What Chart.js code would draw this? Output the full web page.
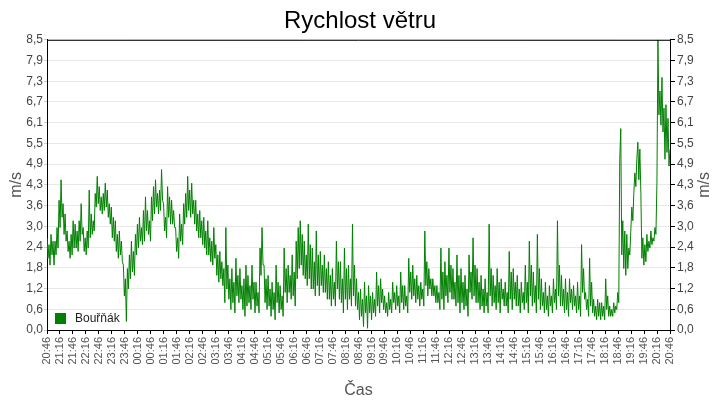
<!DOCTYPE html>
<html>
<head>
<meta charset="utf-8">
<script src="https://cdn.jsdelivr.net/npm/chart.js@4.4.0/dist/chart.umd.min.js"></script>
<style>
  html, body { margin: 0; padding: 0; background: #fff; }
  #wrap { width: 720px; height: 400px; position: relative; }
</style>
</head>
<body>
<div id="wrap"><canvas id="windChart"></canvas></div>
<script>
const chartTitle = 'Rychlost větru';
const seriesName = 'Bouřňák';
const unitLabel = 'm/s';
const timeAxisLabel = 'Čas';

// 30 min steps over the 24 h window
const timeLabels = [
    '20:46', '21:16', '21:46', '22:16', '22:46', '23:16', '23:46',
    '00:16', '00:46', '01:16', '01:46', '02:16', '02:46', '03:16', '03:46',
    '04:16', '04:46', '05:16', '05:46', '06:16', '06:46', '07:16', '07:46',
    '08:16', '08:46', '09:16', '09:46', '10:16', '10:46', '11:16', '11:46',
    '12:16', '12:46', '13:16', '13:46', '14:16', '14:46', '15:16', '15:46',
    '16:16', '16:46', '17:16', '17:46', '18:16', '18:46', '19:16', '19:46',
    '20:16', '20:46'
];
const yTickLabels = ['0,0', '0,6', '1,2', '1,8', '2,4', '3,0', '3,6', '4,3', '4,9', '5,5', '6,1', '6,7', '7,3', '7,9', '8,5'];
const yMax = 8.5;
const totalMinutes = 1440;

// wind speed readings (m/s), evenly spaced over the window
const windSpeed = [
    2.7, 2.1, 2.5, 1.9, 2.8, 2.2, 2.6, 1.9, 2.6, 2.2, 3.0, 2.4, 3.8, 3.0, 4.4, 3.3, 3.7, 2.8, 3.4, 2.6,
    2.9, 2.3, 2.6, 2.1, 2.8, 2.2, 3.2, 2.4, 3.1, 2.4, 2.9, 2.3, 3.2, 2.6, 3.7, 2.8, 3.0, 2.3, 2.7, 2.2,
    2.9, 2.4, 4.1, 2.7, 3.4, 2.8, 3.2, 2.9, 4.0, 3.6, 4.5, 3.7, 4.2, 3.5, 3.9, 3.4, 4.0, 3.5, 4.3, 3.6,
    4.1, 3.3, 3.7, 3.1, 3.6, 2.7, 3.3, 2.6, 3.2, 2.3, 2.8, 2.1, 2.9, 2.2, 2.6, 2.0, 1.9, 1.0, 1.5, 0.25,
    1.8, 1.2, 2.2, 1.5, 2.6, 1.7, 2.3, 1.6, 2.8, 2.2, 3.1, 2.4, 3.3, 2.6, 3.0, 2.5, 3.5, 2.6, 3.9, 2.9,
    3.5, 2.8, 3.2, 2.6, 3.9, 3.2, 4.2, 3.4, 4.4, 3.6, 4.0, 3.4, 4.1, 3.5, 4.7, 3.8, 3.7, 2.9, 3.3, 2.7,
    4.2, 3.3, 3.9, 3.1, 3.8, 3.1, 3.5, 3.0, 3.0, 2.3, 2.7, 2.1, 3.4, 2.6, 3.1, 2.5, 3.7, 3.1, 4.0, 3.3,
    4.5, 3.5, 4.1, 3.3, 4.3, 3.4, 3.8, 3.1, 3.8, 2.9, 3.4, 2.7, 3.5, 2.7, 3.2, 2.5, 3.3, 2.4, 2.9, 2.2,
    3.2, 2.2, 2.7, 2.0, 2.6, 1.9, 3.0, 2.1, 2.5, 1.6, 2.2, 1.4, 2.3, 1.5, 2.0, 1.3, 1.8, 0.8, 3.0, 1.2,
    1.9, 0.9, 1.5, 0.6, 1.8, 0.8, 1.4, 0.5, 2.1, 1.0, 1.6, 0.8, 1.8, 0.9, 1.3, 0.6, 1.5, 0.4, 1.9, 0.7,
    1.6, 0.8, 1.3, 0.6, 1.9, 0.9, 1.4, 0.5, 1.4, 0.7, 1.1, 0.5, 2.4, 1.6, 3.0, 1.9, 1.9, 0.8, 1.5, 0.6,
    1.6, 0.7, 1.2, 0.4, 1.4, 0.6, 1.1, 0.3, 1.9, 0.8, 1.4, 0.5, 1.3, 0.6, 1.0, 0.4, 2.4, 1.1, 1.8, 0.8,
    1.9, 1.1, 1.6, 0.9, 2.2, 1.0, 1.7, 0.7, 2.6, 1.5, 3.0, 1.8, 3.2, 1.9, 2.8, 1.6, 2.6, 1.5, 2.2, 1.3,
    3.1, 1.5, 2.5, 1.2, 2.4, 1.2, 2.0, 1.0, 2.9, 1.3, 2.2, 1.0, 2.3, 1.3, 1.9, 1.1, 2.2, 1.1, 1.8, 0.9,
    2.0, 0.9, 1.6, 0.7, 1.8, 0.9, 1.4, 0.7, 2.6, 1.2, 2.0, 0.9, 2.0, 0.8, 1.5, 0.5, 2.4, 0.9, 1.8, 0.6,
    1.9, 0.9, 1.5, 0.7, 3.1, 1.0, 1.9, 0.7, 1.5, 0.6, 1.1, 0.3, 1.2, 0.4, 0.9, 0.1, 1.4, 0.5, 1.0, 0.05,
    1.3, 0.5, 1.0, 0.3, 1.1, 0.5, 0.9, 0.4, 1.7, 0.7, 1.3, 0.5, 1.5, 0.8, 1.2, 0.6, 1.0, 0.5, 0.8, 0.4,
    1.1, 0.6, 0.9, 0.5, 1.4, 0.8, 1.1, 0.6, 1.3, 0.7, 1.0, 0.5, 1.7, 0.8, 1.3, 0.6, 1.3, 0.7, 1.0, 0.5,
    2.1, 1.1, 1.7, 0.9, 1.9, 1.0, 1.5, 0.8, 1.6, 0.9, 1.3, 0.7, 1.4, 0.9, 1.2, 0.7, 2.9, 1.3, 2.0, 1.0,
    1.8, 1.2, 1.5, 1.0, 1.5, 1.0, 1.3, 0.8, 1.3, 0.8, 1.1, 0.6, 2.4, 0.9, 1.7, 0.6, 2.0, 1.0, 1.6, 0.8,
    2.4, 1.1, 1.9, 0.9, 1.8, 0.9, 1.4, 0.7, 2.2, 0.8, 1.6, 0.5, 1.8, 0.8, 1.4, 0.6, 1.6, 0.7, 1.2, 0.4,
    2.2, 1.1, 1.7, 0.9, 2.7, 1.0, 1.9, 0.8, 1.8, 0.8, 1.4, 0.6, 1.6, 0.7, 1.2, 0.5, 1.5, 0.7, 1.1, 0.5,
    3.1, 1.0, 1.8, 0.7, 1.6, 0.8, 1.3, 0.6, 1.8, 0.8, 1.4, 0.5, 1.5, 0.9, 1.2, 0.7, 1.4, 0.7, 1.1, 0.5,
    2.3, 0.9, 1.7, 0.6, 1.8, 0.9, 1.4, 0.7, 1.6, 0.7, 1.2, 0.5, 1.4, 0.8, 1.1, 0.6, 1.9, 0.8, 1.4, 0.5,
    2.6, 1.0, 1.9, 0.7, 1.7, 0.8, 1.3, 0.5, 2.8, 0.9, 1.8, 0.6, 1.5, 0.7, 1.1, 0.5, 1.4, 0.6, 1.0, 0.4,
    1.3, 0.7, 1.0, 0.5, 1.5, 0.8, 1.2, 0.6, 3.2, 1.0, 1.9, 0.7, 1.6, 0.7, 1.2, 0.5, 1.5, 0.6, 1.1, 0.4,
    1.5, 0.8, 1.2, 0.6, 1.3, 0.7, 1.0, 0.5, 1.4, 0.6, 1.0, 0.4, 2.5, 1.1, 1.8, 0.9, 1.1, 0.6, 0.9, 0.4,
    2.1, 0.7, 1.4, 0.5, 0.9, 0.4, 0.7, 0.3, 0.9, 0.4, 0.8, 0.3, 0.8, 0.4, 0.7, 0.3, 1.5, 0.6, 1.0, 0.4,
    0.7, 0.4, 0.6, 0.4, 0.8, 0.5, 0.7, 0.6, 1.1, 0.8, 5.0, 5.9, 2.2, 3.2, 1.8, 2.9, 1.6, 2.8, 1.8, 2.4,
    2.2, 2.9, 3.6, 3.2, 4.0, 4.6, 4.2, 5.0, 5.5, 4.4, 5.3, 4.0, 2.1, 2.7, 1.9, 2.5, 2.0, 2.8, 2.3, 2.6,
    2.4, 2.9, 2.5, 2.7, 2.6, 3.0, 2.8, 4.3, 8.5, 6.3, 7.0, 6.0, 7.4, 5.8, 6.5, 5.0, 6.6, 5.2, 6.2, 4.8,
    5.3
];

const points = windSpeed.map((v, i) => ({ x: i * totalMinutes / (windSpeed.length - 1), y: v }));

const fontFamily = '"Liberation Sans", Arial, sans-serif';
const lineGreen = '#008000';

function setYTicks(scale) {
    scale.ticks = yTickLabels.map((_, i) => ({ value: i * yMax / (yTickLabels.length - 1) }));
}

const frameAndExtras = {
    id: 'frameAndExtras',
    afterDraw(chart) {
        const { ctx, chartArea } = chart;
        ctx.save();
        // top edge of the plot box (other edges are the axis lines)
        ctx.strokeStyle = '#000';
        ctx.lineWidth = 1;
        ctx.beginPath();
        ctx.moveTo(chartArea.left, chartArea.top + 0.5);
        ctx.lineTo(chartArea.right, chartArea.top + 0.5);
        ctx.stroke();

        // legend inside bottom-left corner
        ctx.fillStyle = lineGreen;
        ctx.fillRect(chartArea.left + 8, chartArea.bottom - 17, 11, 11);
        ctx.fillStyle = '#222';
        ctx.font = '12px ' + fontFamily;
        ctx.textBaseline = 'middle';
        ctx.textAlign = 'left';
        ctx.fillText(seriesName, chartArea.left + 28, chartArea.bottom - 11);

        // right axis title, same reading direction as the left one
        ctx.translate(705, (chartArea.top + chartArea.bottom) / 2);
        ctx.rotate(-Math.PI / 2);
        ctx.font = '16px ' + fontFamily;
        ctx.fillStyle = '#555';
        ctx.textAlign = 'center';
        ctx.fillText(unitLabel, 0, 0);
        ctx.restore();
    }
};

new Chart(document.getElementById('windChart'), {
    type: 'line',
    data: {
        datasets: [{
            label: seriesName,
            data: points,
            borderColor: lineGreen,
            borderWidth: 1,
            pointRadius: 0,
            tension: 0,
            fill: false
        }]
    },
    options: {
        responsive: true,
        maintainAspectRatio: false,
        animation: false,
        layout: { padding: 0 },
        plugins: {
            legend: { display: false },
            tooltip: { enabled: false },
            title: {
                display: true,
                text: chartTitle,
                color: '#000',
                font: { family: fontFamily, size: 24, weight: 'normal' },
                padding: { top: 7, bottom: 4 }
            }
        },
        scales: {
            x: {
                type: 'linear',
                min: 0,
                max: totalMinutes,
                afterBuildTicks(scale) {
                    scale.ticks = timeLabels.map((_, i) => ({ value: i * 30 }));
                },
                afterFit(scale) { scale.height = 70; },
                ticks: {
                    autoSkip: false,
                    maxRotation: 90,
                    minRotation: 90,
                    padding: 3,
                    color: '#555',
                    font: { family: fontFamily, size: 11 },
                    callback: (v, i) => timeLabels[i]
                },
                grid: { drawOnChartArea: false, tickLength: 4, tickColor: '#000' },
                border: { color: '#000' },
                title: {
                    display: true,
                    text: timeAxisLabel,
                    color: '#555',
                    font: { family: fontFamily, size: 16 },
                    padding: { top: 6, bottom: 0 }
                }
            },
            y: {
                position: 'left',
                min: 0,
                max: yMax,
                afterBuildTicks: setYTicks,
                afterFit(scale) { scale.width = 47; },
                ticks: {
                    padding: 1,
                    color: '#444',
                    font: { family: fontFamily, size: 12 },
                    callback: (v, i) => yTickLabels[i]
                },
                grid: { color: '#e8e8e8', tickLength: 3, tickColor: '#ccc' },
                border: { color: '#000' },
                title: {
                    display: true,
                    text: unitLabel,
                    color: '#555',
                    font: { family: fontFamily, size: 16 },
                    padding: { top: 7, bottom: 0 }
                }
            },
            y2: {
                position: 'right',
                min: 0,
                max: yMax,
                afterBuildTicks: setYTicks,
                afterFit(scale) { scale.width = 50; },
                ticks: {
                    padding: 2,
                    color: '#444',
                    font: { family: fontFamily, size: 12 },
                    callback: (v, i) => yTickLabels[i]
                },
                grid: { drawOnChartArea: false, tickLength: 5, tickColor: '#000' },
                border: { color: '#000' }
            }
        }
    },
    plugins: [frameAndExtras]
});
</script>
</body>
</html>
